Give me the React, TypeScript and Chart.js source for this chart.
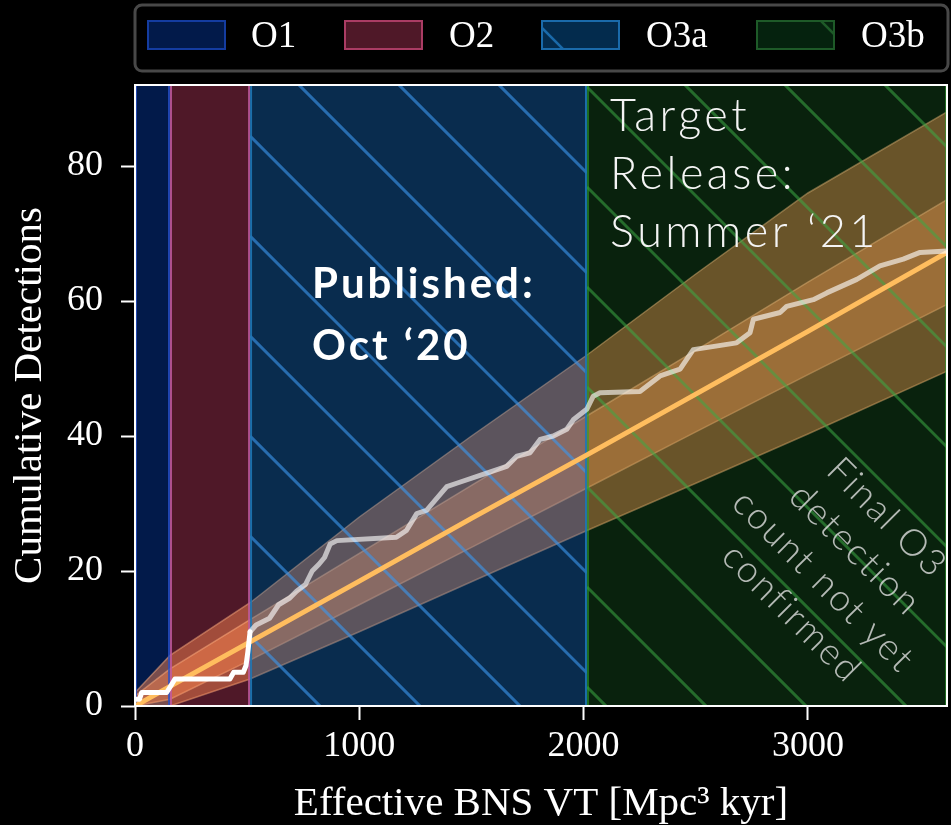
import React, { useEffect, useRef } from 'react';
import { Chart, registerables } from 'chart.js';

Chart.register(...registerables);

// ---------- data ----------
const regionNames = ['O1', 'O2', 'O3a', 'O3b'];
const regionStart = [0, 156, 513, 2015];
const regionEnd = [156, 513, 2015, 3620];

const bandX = [0, 156, 513, 1000, 1500, 2015, 2500, 3000, 3620];
const medianY = [0, 2.9, 9.5, 18.5, 27.8, 37.2, 46.2, 55.5, 67.2];
const upper1Y = [1.5, 5.5, 12.8, 22.6, 32.7, 43, 52.7, 62.8, 75];
const lower1Y = [0, 1, 6.8, 15, 23.5, 32.3, 40.6, 49.1, 59.5];
const upper2Y = [2, 7.5, 15.3, 28, 40, 52, 64, 76, 88];
const lower2Y = [0, 0, 4, 11, 18.4, 26, 33, 40.3, 49.6];

const obsX = [0, 20, 30, 141, 160, 178, 423, 440, 483, 495, 503, 513, 540, 600, 640, 690, 720, 760, 790, 820, 845, 870, 900, 1165, 1210, 1256, 1300, 1390, 1434, 1568, 1657, 1702, 1761, 1806, 1865, 1925, 1954, 2015, 2043, 2073, 2251, 2341, 2430, 2489, 2682, 2742, 2757, 2876, 2905, 3024, 3084, 3218, 3321, 3425, 3500, 3620];
const obsY = [1, 1, 2, 2, 3, 4, 4, 5, 5, 6, 8, 11, 12, 13, 15, 16, 17, 18, 20, 21, 22, 24, 24.5, 25, 26, 28.5, 29, 32.5, 33, 34.5, 35.5, 37, 37.5, 39.5, 40, 41, 42.4, 44, 45.9, 46.4, 46.6, 48.9, 49.9, 52.8, 53.8, 55.3, 57.3, 58.3, 59.2, 60.2, 61.2, 63.2, 65.2, 66.2, 67.2, 67.4];

const xTicks = [0, 1000, 2000, 3000];
const yTicks = [0, 20, 40, 60, 80];
const xMin = 0;
const xMax = 3620;
const yMin = 0;
const yMax = 92;
const xLabel = 'Effective BNS VT [Mpc\u00B3 kyr]';
const yLabel = 'Cumulative Detections';

const publishedLines = ['Published:', 'Oct \u201820'];
const publishedAt = { x: 789, y: 60.5 };
const targetLines = ['Target', 'Release:', 'Summer \u201821'];
const targetAt = { x: 2118, y: 85.2 };
const noteLines = ['Final O3', 'detection', 'count not yet', 'confirmed'];
const noteAt = { x: 3140, y: 20.8 };

// ---------- styles ----------
const W = 951;
const H = 825;
const SERIF = '"Liberation Serif", "DejaVu Serif", serif';
const SANS = 'Lato, "Open Sans", sans-serif';
const BAND_FILL = 'rgba(255,135,80,0.47)';
const BAND_EDGE = 'rgba(255,175,130,0.5)';

const REGION_STYLE = [
  { base: 'rgb(2,26,74)', overlay: '', hatch: '', hatchOffset: 0, edge: 'rgba(40,80,200,0.8)', legendFill: 'rgb(2,26,74)', legendEdge: 'rgb(20,60,160)' },
  { base: 'rgb(79,24,40)', overlay: '', hatch: '', hatchOffset: 0, edge: 'rgba(190,90,160,0.85)', legendFill: 'rgb(79,24,40)', legendEdge: 'rgb(170,60,100)' },
  { base: 'rgb(0,12,35)', overlay: 'rgba(31,119,180,0.3)', hatch: 'rgba(60,150,235,0.62)', hatchOffset: -14, edge: 'rgba(31,119,180,0.9)', legendFill: 'rgb(3,43,77)', legendEdge: 'rgb(26,106,170)' },
  { base: 'rgb(0,3,6)', overlay: 'rgba(44,160,44,0.2)', hatch: 'rgba(60,170,70,0.55)', hatchOffset: 0, edge: 'rgba(44,160,44,0.6)', legendFill: 'rgb(5,34,14)', legendEdge: 'rgb(30,90,40)' },
];

const LEGEND = {
  box: { x: 135, y: 5, w: 813, h: 66, r: 7 },
  patchX: [148, 345, 542, 757],
  textX: [251, 449, 646, 861],
  patchY: 21,
  patchW: 77,
  patchH: 28,
  baseline: 47,
};

function pts(xs: number[], ys: number[]) {
  return xs.map((x, i) => ({ x, y: ys[i] }));
}

function drawHatch(ctx: CanvasRenderingContext2D, x0: number, x1: number, y0: number, y1: number, offset: number, color: string, width: number) {
  ctx.save();
  ctx.beginPath();
  ctx.rect(x0, y0, x1 - x0, y1 - y0);
  ctx.clip();
  ctx.strokeStyle = color;
  ctx.lineWidth = width;
  ctx.beginPath();
  const cMin = y0 - x1;
  const cMax = y1 - x0;
  let c = offset + Math.ceil((cMin - offset) / 100) * 100;
  for (; c <= cMax; c += 100) {
    ctx.moveTo(x0, x0 + c);
    ctx.lineTo(x1, x1 + c);
  }
  ctx.stroke();
  ctx.restore();
}

function regionPx(chart: any, i: number) {
  const xs = chart.scales.x;
  const a = chart.chartArea;
  const x0 = Math.max(a.left, xs.getPixelForValue(regionStart[i]));
  const x1 = Math.min(a.right, xs.getPixelForValue(regionEnd[i]));
  return { x0, x1, y0: a.top, y1: a.bottom };
}

function setSpacing(ctx: any, v: string) {
  try { ctx.letterSpacing = v; } catch (e) { /* ignore */ }
}

const customPlugin = {
  id: 'customDecor',
  beforeDraw(chart: any) {
    const ctx = chart.ctx;
    ctx.save();
    ctx.fillStyle = '#000';
    ctx.fillRect(0, 0, chart.width, chart.height);
    ctx.restore();
  },
  beforeDatasetsDraw(chart: any) {
    const ctx = chart.ctx;
    ctx.save();
    regionNames.forEach((_, i) => {
      const r = regionPx(chart, i);
      ctx.fillStyle = REGION_STYLE[i].base;
      ctx.fillRect(r.x0, r.y0, r.x1 - r.x0, r.y1 - r.y0);
    });
    ctx.restore();
  },
  afterDatasetDraw(chart: any, args: any) {
    if (args.index !== 2) return;
    const ctx = chart.ctx;
    ctx.save();
    regionNames.forEach((_, i) => {
      const st = REGION_STYLE[i];
      const r = regionPx(chart, i);
      if (st.overlay) {
        ctx.fillStyle = st.overlay;
        ctx.fillRect(r.x0, r.y0, r.x1 - r.x0, r.y1 - r.y0);
      }
      if (st.hatch) {
        drawHatch(ctx, r.x0, r.x1, r.y0, r.y1, st.hatchOffset, st.hatch, 3);
      }
    });
    regionNames.forEach((_, i) => {
      const st = REGION_STYLE[i];
      const r = regionPx(chart, i);
      ctx.strokeStyle = st.edge;
      ctx.lineWidth = 2;
      ctx.beginPath();
      ctx.moveTo(r.x0 + 1, r.y0);
      ctx.lineTo(r.x0 + 1, r.y1);
      ctx.moveTo(r.x1 - 1, r.y0);
      ctx.lineTo(r.x1 - 1, r.y1);
      ctx.stroke();
    });
    ctx.restore();
  },
  afterDatasetsDraw(chart: any) {
    const ctx = chart.ctx;
    const xs = chart.scales.x;
    const ys = chart.scales.y;
    const a = chart.chartArea;
    ctx.save();
    // Published
    ctx.fillStyle = '#ffffff';
    ctx.font = `bold 42px ${SANS}`;
    ctx.textAlign = 'left';
    ctx.textBaseline = 'alphabetic';
    setSpacing(ctx, '3px');
    let px = xs.getPixelForValue(publishedAt.x);
    let py = ys.getPixelForValue(publishedAt.y);
    publishedLines.forEach((t, i) => ctx.fillText(t, px, py + i * 62));
    // Target
    ctx.font = `300 45px ${SANS}`;
    setSpacing(ctx, '3.5px');
    ctx.fillStyle = '#f4f4f4';
    px = xs.getPixelForValue(targetAt.x);
    py = ys.getPixelForValue(targetAt.y);
    targetLines.forEach((t, i) => ctx.fillText(t, px, py + i * 58));
    // Note (rotated)
    ctx.font = `300 37px ${SANS}`;
    setSpacing(ctx, '2px');
    ctx.fillStyle = 'rgba(225,225,225,0.8)';
    ctx.textAlign = 'center';
    ctx.textBaseline = 'middle';
    px = xs.getPixelForValue(noteAt.x);
    py = ys.getPixelForValue(noteAt.y);
    ctx.translate(px, py);
    ctx.rotate(Math.PI / 4);
    const n = noteLines.length;
    noteLines.forEach((t, i) => ctx.fillText(t, 0, (i - (n - 1) / 2) * 45));
    ctx.restore();
    setSpacing(ctx, '0px');
    // frame
    ctx.save();
    ctx.strokeStyle = '#ffffff';
    ctx.lineWidth = 2;
    ctx.strokeRect(a.left, a.top, a.right - a.left, a.bottom - a.top);
    ctx.restore();
  },
  afterDraw(chart: any) {
    const ctx = chart.ctx;
    ctx.save();
    setSpacing(ctx, '0px');
    const b = LEGEND.box;
    ctx.fillStyle = '#000';
    ctx.strokeStyle = '#484848';
    ctx.lineWidth = 3;
    ctx.beginPath();
    ctx.moveTo(b.x + b.r, b.y);
    ctx.lineTo(b.x + b.w - b.r, b.y);
    ctx.arcTo(b.x + b.w, b.y, b.x + b.w, b.y + b.r, b.r);
    ctx.lineTo(b.x + b.w, b.y + b.h - b.r);
    ctx.arcTo(b.x + b.w, b.y + b.h, b.x + b.w - b.r, b.y + b.h, b.r);
    ctx.lineTo(b.x + b.r, b.y + b.h);
    ctx.arcTo(b.x, b.y + b.h, b.x, b.y + b.h - b.r, b.r);
    ctx.lineTo(b.x, b.y + b.r);
    ctx.arcTo(b.x, b.y, b.x + b.r, b.y, b.r);
    ctx.closePath();
    ctx.fill();
    ctx.stroke();
    regionNames.forEach((name, i) => {
      const st = REGION_STYLE[i];
      const x = LEGEND.patchX[i];
      const y = LEGEND.patchY;
      ctx.fillStyle = st.legendFill;
      ctx.fillRect(x, y, LEGEND.patchW, LEGEND.patchH);
      if (st.hatch) {
        drawHatch(ctx, x, x + LEGEND.patchW, y, y + LEGEND.patchH, st.hatchOffset, st.legendEdge, 2.5);
      }
      ctx.strokeStyle = st.legendEdge;
      ctx.lineWidth = 2;
      ctx.strokeRect(x, y, LEGEND.patchW, LEGEND.patchH);
      ctx.fillStyle = '#ffffff';
      ctx.font = `37px ${SERIF}`;
      ctx.textAlign = 'left';
      ctx.textBaseline = 'alphabetic';
      ctx.fillText(name, LEGEND.textX[i], LEGEND.baseline);
    });
    ctx.restore();
  },
};

export default function App() {
  const ref = useRef<HTMLCanvasElement>(null);
  useEffect(() => {
    const canvas = ref.current;
    if (!canvas) return;
    const chart = new Chart(canvas, {
      type: 'line',
      data: {
        datasets: [
          {
            label: 'Observed',
            data: pts(obsX, obsY),
            borderColor: '#ffffff',
            borderWidth: 5,
            pointRadius: 0,
            fill: false,
            order: 0,
            borderJoinStyle: 'round',
            borderCapStyle: 'round',
            segment: {
              borderColor: (c: any) => (c.p0.parsed.x >= regionStart[2] ? 'rgba(255,255,255,0.62)' : '#ffffff'),
            },
          } as any,
          {
            label: 'Median',
            data: pts(bandX, medianY),
            borderColor: '#ffbd5e',
            borderWidth: 5,
            pointRadius: 0,
            fill: false,
            order: 1,
          },
          {
            label: 'Upper 1',
            data: pts(bandX, upper1Y),
            borderColor: BAND_EDGE,
            borderWidth: 1.5,
            backgroundColor: BAND_FILL,
            pointRadius: 0,
            fill: '+1',
            order: 2,
          },
          {
            label: 'Lower 1',
            data: pts(bandX, lower1Y),
            borderColor: BAND_EDGE,
            borderWidth: 1.5,
            pointRadius: 0,
            fill: false,
            order: 3,
          },
          {
            label: 'Upper 2',
            data: pts(bandX, upper2Y),
            borderColor: BAND_EDGE,
            borderWidth: 1.5,
            backgroundColor: BAND_FILL,
            pointRadius: 0,
            fill: '+1',
            order: 4,
          },
          {
            label: 'Lower 2',
            data: pts(bandX, lower2Y),
            borderColor: BAND_EDGE,
            borderWidth: 1.5,
            pointRadius: 0,
            fill: false,
            order: 5,
          },
        ],
      },
      options: {
        animation: false,
        responsive: false,
        devicePixelRatio: 1,
        layout: { padding: { top: 85, right: 4, left: 0, bottom: 0 } },
        plugins: {
          legend: { display: false },
          tooltip: { enabled: false },
        },
        elements: { line: { tension: 0 } },
        scales: {
          x: {
            type: 'linear',
            min: xMin,
            max: xMax,
            afterBuildTicks: (s: any) => { s.ticks = xTicks.map((v) => ({ value: v })); },
            afterFit: (s: any) => { s.height = 119; },
            ticks: {
              color: '#ffffff',
              font: { family: SERIF, size: 36, lineHeight: 1.2 },
              padding: 5,
              maxRotation: 0,
              autoSkip: false,
              callback: (v: any) => String(v),
            },
            grid: { display: true, drawOnChartArea: false, drawTicks: true, tickLength: 14, tickWidth: 2, tickColor: '#ffffff' },
            border: { display: false },
            title: {
              display: true,
              text: xLabel,
              color: '#ffffff',
              font: { family: SERIF, size: 41, lineHeight: 1 },
              padding: { top: 0, bottom: 0 },
            },
          },
          y: {
            type: 'linear',
            min: yMin,
            max: yMax,
            afterBuildTicks: (s: any) => { s.ticks = yTicks.map((v) => ({ value: v })); },
            afterFit: (s: any) => { s.width = 135; },
            ticks: {
              color: '#ffffff',
              font: { family: SERIF, size: 36, lineHeight: 1.2 },
              padding: 18,
              callback: (v: any) => String(v),
            },
            grid: { display: true, drawOnChartArea: false, drawTicks: true, tickLength: 14, tickWidth: 2, tickColor: '#ffffff' },
            border: { display: false },
            title: {
              display: true,
              text: yLabel,
              color: '#ffffff',
              font: { family: SERIF, size: 41, lineHeight: 1 },
              padding: { top: 10, bottom: 0 },
            },
          },
        },
      },
      plugins: [customPlugin],
    } as any);
    return () => chart.destroy();
  }, []);
  return (
    <div style={{ position: 'fixed', left: 0, top: 0, width: W, height: H, background: '#000' }}>
      <canvas ref={ref} width={W} height={H} style={{ display: 'block', width: W, height: H }} />
    </div>
  );
}
